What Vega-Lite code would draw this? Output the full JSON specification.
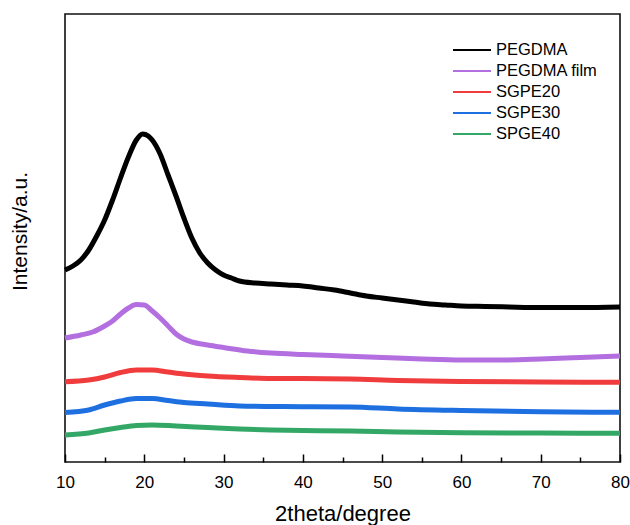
{
  "$schema": "https://vega.github.io/schema/vega-lite/v6.json",
  "width": 555,
  "height": 448,
  "autosize": {"type": "none"},
  "padding": {"left": 65, "top": 14, "right": 10, "bottom": 63},
  "background": "white",
  "config": {
    "view": {"stroke": "#111", "strokeWidth": 1.6},
    "font": "Liberation Sans"
  },
  "data": {"values": [
    {"s":"PEGDMA","x":10,"v":192},{"s":"PEGDMA","x":11,"v":196},{"s":"PEGDMA","x":12,"v":202},{"s":"PEGDMA","x":13,"v":212},{"s":"PEGDMA","x":14,"v":226},{"s":"PEGDMA","x":15,"v":242},{"s":"PEGDMA","x":16,"v":262},{"s":"PEGDMA","x":17,"v":284},{"s":"PEGDMA","x":18,"v":305},{"s":"PEGDMA","x":19,"v":322},{"s":"PEGDMA","x":19.8,"v":328},{"s":"PEGDMA","x":20.5,"v":326},{"s":"PEGDMA","x":21,"v":322},{"s":"PEGDMA","x":22,"v":308},{"s":"PEGDMA","x":23,"v":287},{"s":"PEGDMA","x":24,"v":266},{"s":"PEGDMA","x":25,"v":244},{"s":"PEGDMA","x":26,"v":224},{"s":"PEGDMA","x":27,"v":209},{"s":"PEGDMA","x":28,"v":199},{"s":"PEGDMA","x":29,"v":192},{"s":"PEGDMA","x":30,"v":187},{"s":"PEGDMA","x":31,"v":184},{"s":"PEGDMA","x":32,"v":181},{"s":"PEGDMA","x":34,"v":179},{"s":"PEGDMA","x":36,"v":178},{"s":"PEGDMA","x":38,"v":177},{"s":"PEGDMA","x":40,"v":176},{"s":"PEGDMA","x":42,"v":174},{"s":"PEGDMA","x":44,"v":172},{"s":"PEGDMA","x":46,"v":169},{"s":"PEGDMA","x":48,"v":166},{"s":"PEGDMA","x":50,"v":164},{"s":"PEGDMA","x":52,"v":162},{"s":"PEGDMA","x":54,"v":160},{"s":"PEGDMA","x":56,"v":158},{"s":"PEGDMA","x":58,"v":157},{"s":"PEGDMA","x":60,"v":156},{"s":"PEGDMA","x":63,"v":155.5},{"s":"PEGDMA","x":66,"v":155},{"s":"PEGDMA","x":70,"v":154.5},{"s":"PEGDMA","x":75,"v":154.5},{"s":"PEGDMA","x":80,"v":155},
    {"s":"PEGDMA film","x":10,"v":124},{"s":"PEGDMA film","x":12,"v":127},{"s":"PEGDMA film","x":13.5,"v":130},{"s":"PEGDMA film","x":15,"v":136},{"s":"PEGDMA film","x":16,"v":141},{"s":"PEGDMA film","x":17,"v":148},{"s":"PEGDMA film","x":18,"v":154},{"s":"PEGDMA film","x":19,"v":157.5},{"s":"PEGDMA film","x":20,"v":157},{"s":"PEGDMA film","x":21,"v":151},{"s":"PEGDMA film","x":22,"v":144},{"s":"PEGDMA film","x":23,"v":136},{"s":"PEGDMA film","x":24,"v":128},{"s":"PEGDMA film","x":25,"v":123},{"s":"PEGDMA film","x":26,"v":120},{"s":"PEGDMA film","x":28,"v":117},{"s":"PEGDMA film","x":30,"v":114.5},{"s":"PEGDMA film","x":33,"v":111},{"s":"PEGDMA film","x":36,"v":109},{"s":"PEGDMA film","x":40,"v":107.5},{"s":"PEGDMA film","x":45,"v":106},{"s":"PEGDMA film","x":50,"v":104.5},{"s":"PEGDMA film","x":55,"v":103},{"s":"PEGDMA film","x":60,"v":102},{"s":"PEGDMA film","x":65,"v":102},{"s":"PEGDMA film","x":70,"v":103},{"s":"PEGDMA film","x":75,"v":104.5},{"s":"PEGDMA film","x":80,"v":106},
    {"s":"SGPE20","x":10,"v":80.3},{"s":"SGPE20","x":13,"v":82},{"s":"SGPE20","x":15,"v":85},{"s":"SGPE20","x":17,"v":89.5},{"s":"SGPE20","x":19,"v":92},{"s":"SGPE20","x":21,"v":92},{"s":"SGPE20","x":23,"v":90},{"s":"SGPE20","x":25,"v":88},{"s":"SGPE20","x":28,"v":86},{"s":"SGPE20","x":32,"v":84.5},{"s":"SGPE20","x":36,"v":83.5},{"s":"SGPE20","x":40,"v":83.5},{"s":"SGPE20","x":46,"v":83},{"s":"SGPE20","x":52,"v":81.5},{"s":"SGPE20","x":60,"v":80.5},{"s":"SGPE20","x":70,"v":80},{"s":"SGPE20","x":80,"v":79.7},
    {"s":"SGPE30","x":10,"v":49.5},{"s":"SGPE30","x":13,"v":52},{"s":"SGPE30","x":15,"v":57},{"s":"SGPE30","x":17,"v":61},{"s":"SGPE30","x":19,"v":63.5},{"s":"SGPE30","x":21,"v":63.5},{"s":"SGPE30","x":23,"v":61.5},{"s":"SGPE30","x":25,"v":59.5},{"s":"SGPE30","x":28,"v":58},{"s":"SGPE30","x":32,"v":56},{"s":"SGPE30","x":36,"v":55.5},{"s":"SGPE30","x":40,"v":55.3},{"s":"SGPE30","x":46,"v":55},{"s":"SGPE30","x":52,"v":53},{"s":"SGPE30","x":60,"v":51.5},{"s":"SGPE30","x":70,"v":50.3},{"s":"SGPE30","x":80,"v":49.7},
    {"s":"SPGE40","x":10,"v":27},{"s":"SPGE40","x":13,"v":29},{"s":"SPGE40","x":15,"v":32},{"s":"SPGE40","x":17,"v":34.5},{"s":"SPGE40","x":19,"v":36.5},{"s":"SPGE40","x":21,"v":37},{"s":"SPGE40","x":24,"v":36},{"s":"SPGE40","x":28,"v":34.5},{"s":"SPGE40","x":32,"v":33},{"s":"SPGE40","x":36,"v":32},{"s":"SPGE40","x":40,"v":31.5},{"s":"SPGE40","x":46,"v":31},{"s":"SPGE40","x":52,"v":30},{"s":"SPGE40","x":60,"v":29.3},{"s":"SPGE40","x":70,"v":29},{"s":"SPGE40","x":80,"v":28.7}
  ]},
  "mark": {"type": "line", "interpolate": "monotone", "strokeWidth": 5, "strokeJoin": "round"},
  "encoding": {
    "x": {"field": "x", "type": "quantitative", "scale": {"domain": [10, 80], "nice": false, "zero": false},
      "axis": {"values": [10,15,20,25,30,35,40,45,50,55,60,65,70,75,80], "title": "2theta/degree", "grid": false,
        "tickSize": {"condition": {"test": "datum.value % 10 === 0", "value": -8}, "value": -5},
        "tickColor": "#000", "tickWidth": 1.5, "domain": false,
        "labelExpr": "datum.value % 10 === 0 ? datum.label : ''",
        "labelFontSize": 17, "labelColor": "#000", "labelPadding": 20, "labelFont": "Liberation Sans", "labelFlush": false, "labelOverlap": false,
        "titleFontSize": 22, "titleFontWeight": "normal", "titleColor": "#000", "titleFont": "Liberation Sans", "titlePadding": 10}},
    "y": {"field": "v", "type": "quantitative", "scale": {"domain": [0, 448], "nice": false},
      "axis": {"title": "Intensity/a.u.", "labels": false, "ticks": false, "grid": false, "domain": false,
        "titleFontSize": 21, "titleFontWeight": "normal", "titleColor": "#000", "titleFont": "Liberation Sans", "titlePadding": 35, "titleY": 217}},
    "color": {"field": "s", "type": "nominal",
      "scale": {"domain": ["PEGDMA", "PEGDMA film", "SGPE20", "SGPE30", "SPGE40"], "range": ["#000000", "#b36ee0", "#f03c3c", "#1e6fe0", "#33a866"]},
      "legend": {"title": null, "orient": "none", "legendX": 387, "legendY": 26, "symbolType": "stroke", "symbolSize": 1444, "symbolStrokeWidth": 2,
        "clipHeight": 20, "labelFontSize": 16.5, "labelFont": "Liberation Sans", "labelColor": "#000", "labelOffset": 4, "rowPadding": 1}}
  }
}
